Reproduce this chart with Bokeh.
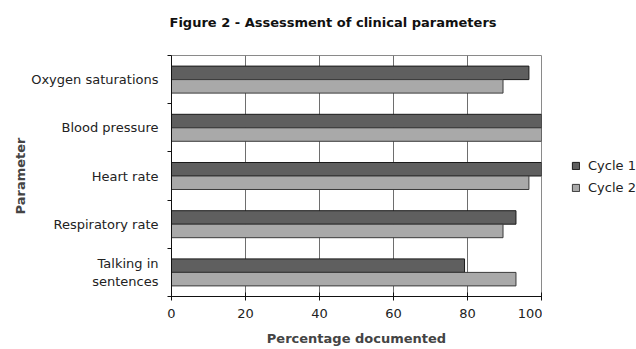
import numpy as np
from bokeh.plotting import figure
from bokeh.layouts import row
from bokeh.models import ColumnDataSource, Range1d, FixedTicker, Legend, LegendItem, LinearAxis
from bokeh.transform import dodge
from bokeh.embed import file_html
from bokeh.resources import INLINE

categories = ["Oxygen saturations", "Blood pressure", "Heart rate", "Respiratory rate", "Talking in\nsentences"]
cycle1 = [96.6, 100, 100, 93.1, 79.2]
cycle2 = [89.6, 100, 96.6, 89.6, 93.1]
series_names = ["Cycle 1", "Cycle 2"]
x_ticks = [0, 20, 40, 60, 80, 100]

FONT = "DejaVu Sans"
C1_FILL, C1_LINE = "#5f5f5f", "#1a1a1a"
C2_FILL, C2_LINE = "#a9a9a9", "#3a3a3a"
pos = np.arange(len(categories)) + 0.5
src = ColumnDataSource(dict(y=pos, c1=cycle1, c2=cycle2))

p = figure(width=542, height=349, output_backend="svg", toolbar_location=None,
           x_range=Range1d(0, 100), y_range=Range1d(len(categories), 0),
           min_border_left=171, min_border_right=1, min_border_top=55, min_border_bottom=53,
           title="Figure 2 - Assessment of clinical parameters")

p.hbar(y=dodge("y", -0.14, range=p.y_range), right="c1", left=0, height=0.28, source=src,
       fill_color=C1_FILL, line_color=C1_LINE, line_width=1)
p.hbar(y=dodge("y", 0.14, range=p.y_range), right="c2", left=0, height=0.28, source=src,
       fill_color=C2_FILL, line_color=C2_LINE, line_width=1)

xa = p.below[0]
ya = p.left[0]

# invisible spacer axis above the frame, so the title sits higher
spacer = LinearAxis(ticker=FixedTicker(ticks=[0]), axis_line_color=None,
                    major_tick_in=0, major_tick_out=6, major_tick_line_color=None,
                    minor_tick_in=0, minor_tick_out=0, minor_tick_line_color=None,
                    major_label_standoff=0, major_label_overrides={0: "\u200b"})
p.add_layout(spacer, "above")

p.title.text_font = FONT
p.title.text_font_size = "13px"
p.title.text_font_style = "bold"
p.title.align = "left"
p.title.offset = -2
p.title.vertical_align = "bottom"
p.title.standoff = 10
p.title.text_color = "#111111"

p.outline_line_color = "#8a8a8a"
p.background_fill_color = "white"

# x axis
xa.ticker = FixedTicker(ticks=x_ticks)
xa.axis_label = "Percentage documented"
xa.axis_label_text_font = FONT
xa.axis_label_text_font_style = "bold"
xa.axis_label_text_font_size = "13px"
xa.axis_label_standoff = 10
xa.major_label_text_font = FONT
xa.major_label_text_font_size = "13px"
xa.major_label_text_color = "#222222"
xa.major_tick_in = 4
xa.major_tick_out = 4
xa.minor_tick_line_color = None
xa.axis_line_color = "#111111"
xa.major_tick_line_color = "#111111"
xa.major_label_standoff = 8

# y axis
ya.ticker = FixedTicker(ticks=list(pos), minor_ticks=list(range(len(categories) + 1)))
ya.major_label_overrides = {float(v): c for v, c in zip(pos, categories)}
ya.major_tick_line_color = None
ya.minor_tick_in = 0
ya.minor_tick_out = 4
ya.minor_tick_line_color = "#111111"
ya.axis_line_color = "#111111"
ya.axis_label = "Parameter"
ya.axis_label_text_font = FONT
ya.axis_label_text_font_style = "bold"
ya.axis_label_text_font_size = "13px"
ya.axis_label_standoff = 0
ya.major_label_text_font = FONT
ya.major_label_text_font_size = "13px"
ya.major_label_text_color = "#222222"
ya.major_label_standoff = 7

p.xgrid.ticker = FixedTicker(ticks=x_ticks)
p.xgrid.grid_line_color = "#6e6e6e"
p.ygrid.grid_line_color = None

# legend panel to the right of the chart (proxy renderers are hidden)
lg = figure(width=94, height=349, output_backend="svg", toolbar_location=None,
            x_range=Range1d(0, 100), y_range=Range1d(len(categories), 0),
            x_axis_location=None, y_axis_location=None, min_border=0)
lg.outline_line_color = None
lg.grid.grid_line_color = None
g1 = lg.hbar(y="y", right="c1", left=0, height=0.28, source=src, fill_color=C1_FILL, line_color=C1_LINE, visible=False)
g2 = lg.hbar(y="y", right="c2", left=0, height=0.28, source=src, fill_color=C2_FILL, line_color=C2_LINE, visible=False)
legend = Legend(items=[LegendItem(label=series_names[0], renderers=[g1]),
                       LegendItem(label=series_names[1], renderers=[g2])],
                location=(29, 100), border_line_color=None, background_fill_alpha=0,
                inactive_fill_alpha=0,
                padding=0, margin=0, spacing=4, glyph_width=9, glyph_height=9,
                label_text_font=FONT, label_text_font_size="13px", label_text_color="#222222",
                label_standoff=8, label_height=18)
lg.add_layout(legend, "center")

layout = row(p, lg)
open("out.html", "w").write(file_html(layout, INLINE))
